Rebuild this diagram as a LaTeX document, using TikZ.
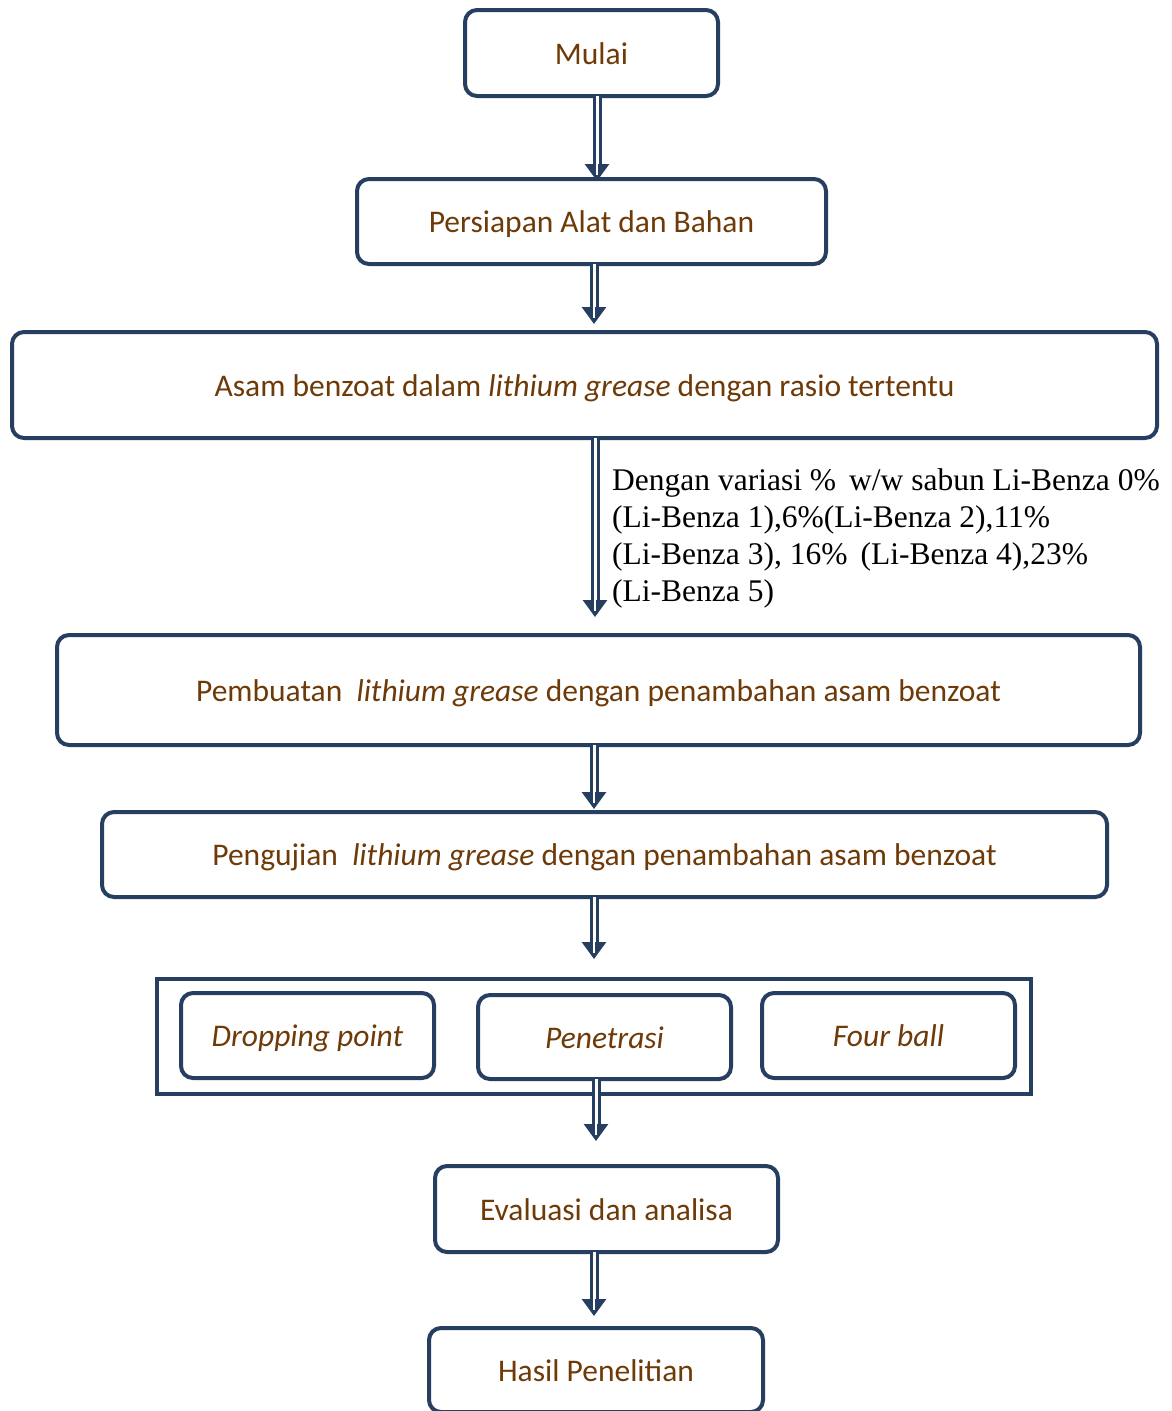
\documentclass[tikz,border=0pt]{standalone}
\usepackage{fontspec}
\setmainfont{Carlito}
\newfontfamily\timesf{Liberation Serif}
\usetikzlibrary{arrows.meta}
\definecolor{navy}{RGB}{38,62,96}
\definecolor{brown}{RGB}{110,58,8}
\tikzset{
  box/.style={draw=navy, line width=4pt, rounded corners=12pt, text=brown, font=\fontsize{31.5}{36}\selectfont, text height=25pt, text depth=3pt},
  flow/.style={draw=navy, line width=3pt, double=white, double distance=3pt, -{Triangle[length=17pt,width=24pt]}},
  flowcore/.style={draw=white, line width=2.2pt, shorten >=6pt, shorten <=3pt}
}
\newcommand{\flowarr}[2]{\draw[flow] (#1) -- (#2); \draw[flowcore] (#1) -- (#2);}
\begin{document}
\begin{tikzpicture}[x=1pt,y=-1pt]
\useasboundingbox (0,0) rectangle (1171,1411);
\fill[white] (0,0) rectangle (1171,1411);
\node[box, minimum width=253pt, minimum height=86pt] (mulai) at (591.5,53) {Mulai};
\node[box, minimum width=469pt, minimum height=85pt] (persiapan) at (591.5,221.5) {Persiapan Alat dan Bahan};
\node[box, minimum width=1145pt, minimum height=106pt] (asam) at (584.5,385) {Asam benzoat dalam \textit{lithium grease} dengan rasio tertentu};
\node[box, minimum width=1083pt, minimum height=110pt] (pembuatan) at (598.5,690) {Pembuatan\ \ \textit{lithium grease} dengan penambahan asam benzoat};
\node[box, minimum width=1005pt, minimum height=85pt] (pengujian) at (604.5,854.5) {Pengujian\ \ \textit{lithium grease} dengan penambahan asam benzoat};
\node[draw=navy, line width=4pt, minimum width=874pt, minimum height=115pt] (uji) at (594,1036.5) {};
\node[box, minimum width=253pt, minimum height=85pt] (drop) at (307.5,1035.5) {\textit{Dropping point}};
\node[box, minimum width=253pt, minimum height=84pt] (pen) at (604.5,1037) {\textit{Penetrasi}};
\node[box, minimum width=253pt, minimum height=85pt] (four) at (888.5,1035.5) {\textit{Four ball}};
\node[box, minimum width=343pt, minimum height=86pt] (eval) at (606.5,1209) {Evaluasi dan analisa};
\node[box, minimum width=334pt, minimum height=84pt] (hasil) at (596,1370) {Hasil Penelitian};
\node[anchor=north west, align=left, inner sep=0pt, font=\timesf\fontsize{31.5}{37}\selectfont] (note) at (612,468)
 {Dengan variasi \%\ \,w/w sabun Li-Benza 0\%\\(Li-Benza 1),6\%(Li-Benza 2),11\%\\(Li-Benza 3), 16\%\ \,(Li-Benza 4),23\%\\(Li-Benza 5)};
\coordinate (a1) at (597,96); \coordinate (a1e) at (597,181);
\coordinate (a2) at (594,264); \coordinate (a2e) at (594,324);
\coordinate (a3) at (595,438); \coordinate (a3e) at (595,617);
\coordinate (a4) at (594,745); \coordinate (a4e) at (594,809);
\coordinate (a5) at (594,897); \coordinate (a5e) at (594,959);
\coordinate (a6) at (596,1079); \coordinate (a6e) at (596,1141);
\coordinate (a7) at (594,1252); \coordinate (a7e) at (594,1316);
\flowarr{a1}{a1e}
\flowarr{a2}{a2e}
\flowarr{a3}{a3e}
\flowarr{a4}{a4e}
\flowarr{a5}{a5e}
\flowarr{a6}{a6e}
\flowarr{a7}{a7e}
\end{tikzpicture}
\end{document}
